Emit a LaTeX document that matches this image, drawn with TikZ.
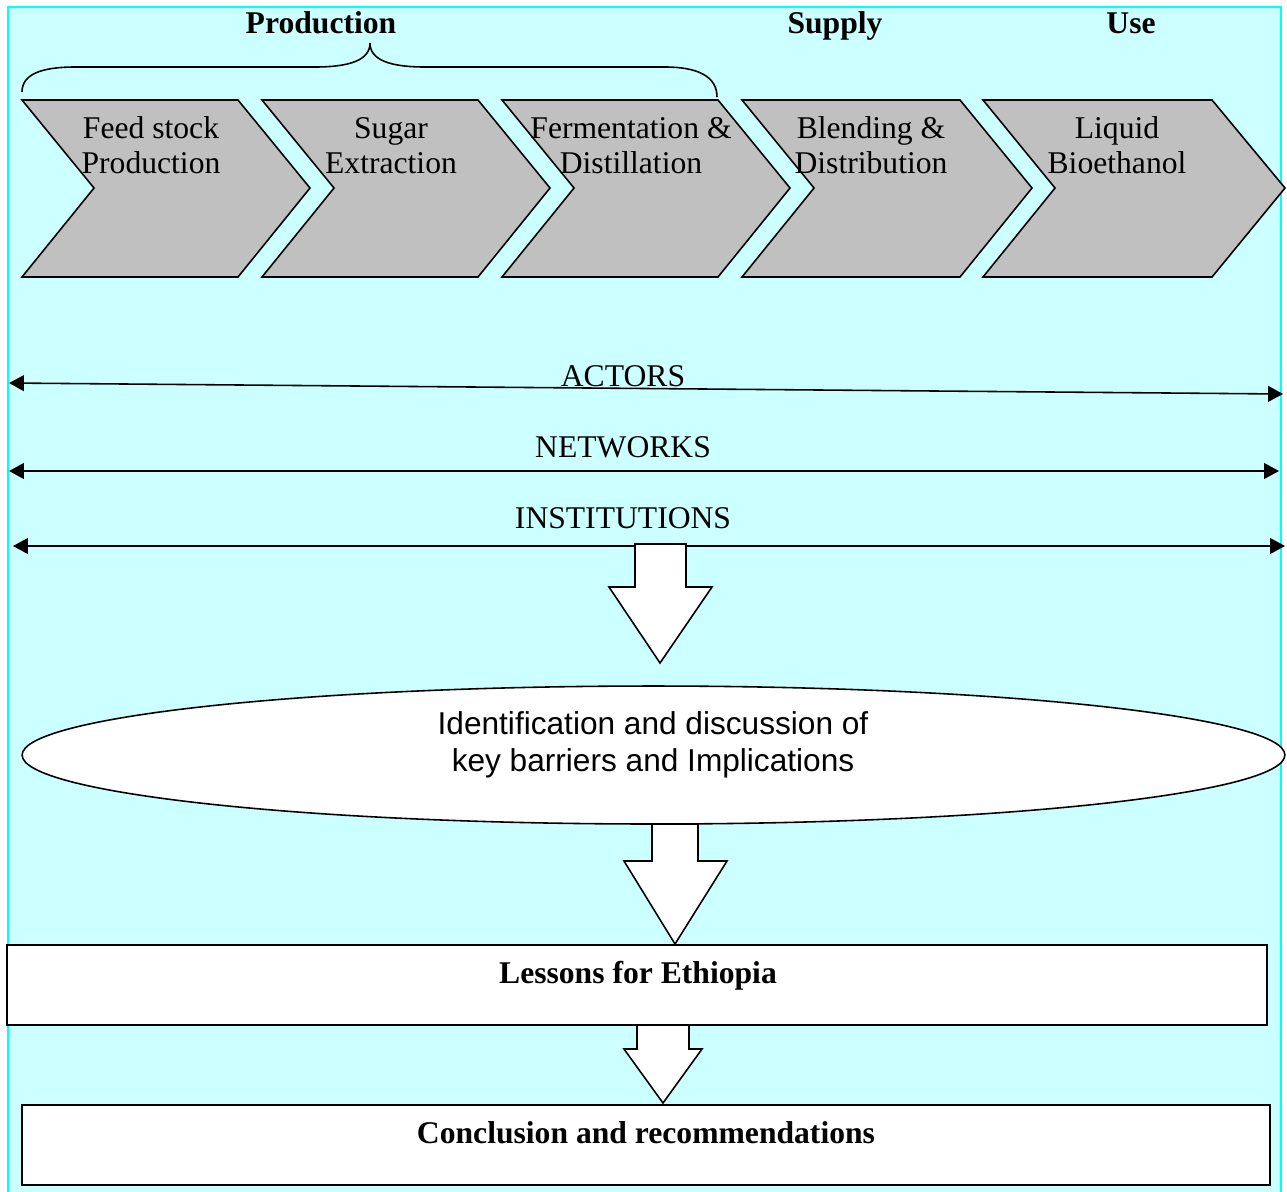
\documentclass[tikz,border=0pt]{standalone}
\usepackage{fontspec}
\setmainfont{Liberation Serif}
\newfontfamily\arialfont{Liberation Sans}
\usetikzlibrary{arrows.meta,shapes.geometric}
\definecolor{bgcyan}{HTML}{CCFFFF}
\definecolor{bordercyan}{HTML}{00FFFF}
\definecolor{chevgray}{HTML}{C0C0C0}
\begin{document}
\begin{tikzpicture}[x=0.02cm,y=-0.02cm,
  chev/.style={draw=black, fill=chevgray, line width=0.9pt, line join=miter},
  chevtext/.style={font=\fontsize{18}{21}\selectfont, anchor=base, inner sep=0pt},
  titletext/.style={font=\bfseries\fontsize{18}{21}\selectfont, anchor=base, inner sep=0pt},
  axislabel/.style={font=\fontsize{18}{21}\selectfont, anchor=base, inner sep=0pt},
  dblarrow/.style={line width=0.9pt, {Triangle[length=8.5pt,width=9pt]}-{Triangle[length=8.5pt,width=9pt]}},
  blockarrow/.style={draw=black, fill=white, line width=0.9pt, line join=miter},
  box/.style={draw=black, fill=white, line width=1.4pt, rectangle, inner sep=0pt, minimum height=1.6cm},
  boxtext/.style={font=\bfseries\fontsize{18}{21}\selectfont, anchor=base, inner sep=0pt},
  elltext/.style={font=\arialfont\fontsize{18}{21}\selectfont, anchor=base, inner sep=0pt}
]
\useasboundingbox (0,0) rectangle (1287,1191);
% background panel
\fill[bgcyan] (8,7) rectangle (1281,1205);
\draw[bordercyan, line width=1.6pt] (8,1205) -- (8,7) -- (1281,7) -- (1281,1205);

% titles
\node[titletext] (prod) at (321,33) {Production};
\node[titletext] (supply) at (835,33) {Supply};
\node[titletext] (use) at (1131,33) {Use};

% brace
\draw[line width=0.9pt] (22,92) .. controls (22,74) and (42,67) .. (75,67) -- (315,67)
  .. controls (350,67) and (370,60) .. (370,43)
  .. controls (370,60) and (390,67) .. (425,67) -- (665,67)
  .. controls (697,67) and (717,76) .. (717,97);

% chevrons
\draw[chev] (22,100) -- (238,100) -- (310,188) -- (238,277) -- (22,277) -- (94,188) -- cycle;
\draw[chev] (262,100) -- (478,100) -- (550,188) -- (478,277) -- (262,277) -- (334,188) -- cycle;
\draw[chev] (502,100) -- (718,100) -- (790,188) -- (718,277) -- (502,277) -- (574,188) -- cycle;
\draw[chev] (742,100) -- (960,100) -- (1032,188) -- (960,277) -- (742,277) -- (814,188) -- cycle;
\draw[chev] (983,100) -- (1212,100) -- (1285,188) -- (1212,277) -- (983,277) -- (1055,188) -- cycle;

\node[chevtext] (c1a) at (151,138) {Feed stock};
\node[chevtext] (c1b) at (151,173) {Production};
\node[chevtext] (c2a) at (391,138) {Sugar};
\node[chevtext] (c2b) at (391,173) {Extraction};
\node[chevtext] (c3a) at (631,138) {Fermentation \&};
\node[chevtext] (c3b) at (631,173) {Distillation};
\node[chevtext] (c4a) at (871,138) {Blending \&};
\node[chevtext] (c4b) at (871,173) {Distribution};
\node[chevtext] (c5a) at (1117,138) {Liquid};
\node[chevtext] (c5b) at (1117,173) {Bioethanol};

% actors / networks / institutions
\coordinate (actL) at (9,383);
\coordinate (actR) at (1283,394);
\coordinate (netL) at (9,471);
\coordinate (netR) at (1279,471);
\coordinate (insL) at (13,546);
\coordinate (insR) at (1285,546);
\draw[dblarrow] (actL) -- (actR);
\draw[dblarrow] (netL) -- (netR);
\draw[dblarrow] (insL) -- (insR);
\node[axislabel] (actors) at (623,386) {ACTORS};
\node[axislabel] (networks) at (623,457) {NETWORKS};
\node[axislabel] (institutions) at (623,528) {INSTITUTIONS};

% block arrow 1
\draw[blockarrow] (635,544) -- (686,544) -- (686,587) -- (712,587) -- (660,663) -- (609,587) -- (635,587) -- cycle;

% ellipse
\node[draw=black, fill=white, ellipse, line width=0.9pt, inner sep=0pt,
      minimum width=25.26cm, minimum height=2.76cm] (barriers) at (653.5,755) {};
\node[elltext] (ell1) at (653,734) {Identification and discussion of};
\node[elltext] (ell2) at (653,771) {key barriers and Implications};

% block arrow 2
\draw[blockarrow] (652,824) -- (698,824) -- (698,861) -- (727,861) -- (675,944) -- (624,861) -- (652,861) -- cycle;

% lessons box
\node[box, minimum width=25.2cm] (lessons) at (637,985) {};
\node[boxtext] (lessonstext) at (638,983) {Lessons for Ethiopia};

% block arrow 3
\draw[blockarrow] (637,1025) -- (689,1025) -- (689,1049) -- (702,1049) -- (663,1103) -- (624,1049) -- (637,1049) -- cycle;

% conclusion box
\node[box, minimum width=24.96cm] (conclusion) at (646,1145) {};
\node[boxtext] (conclusiontext) at (646,1143) {Conclusion and recommendations};
\end{tikzpicture}
\end{document}
